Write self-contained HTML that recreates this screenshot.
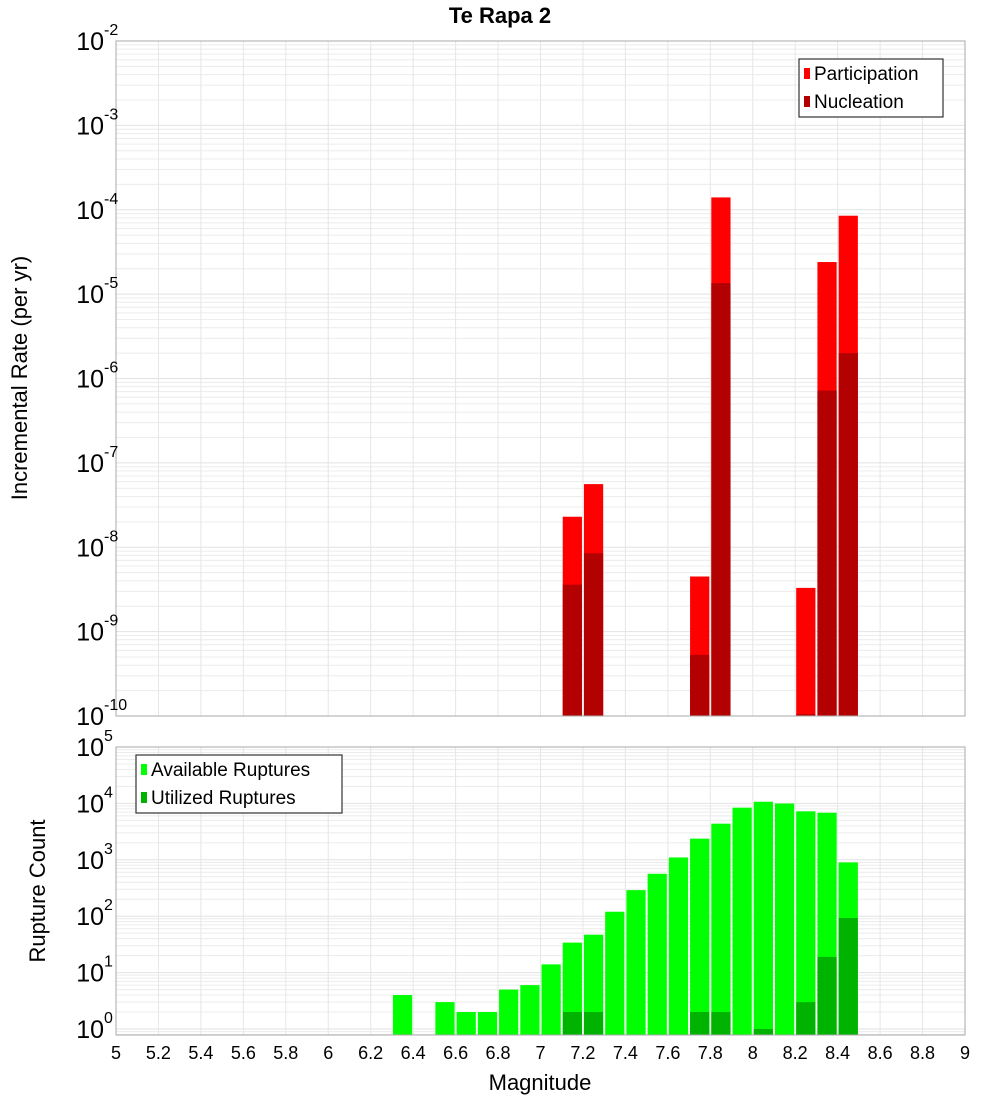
<!DOCTYPE html>
<html><head><meta charset="utf-8"><style>body{margin:0;background:#fff}svg{display:block;font-family:"Liberation Sans","DejaVu Sans",sans-serif}</style></head>
<body>
<svg id="chart" width="1000" height="1100" xmlns="http://www.w3.org/2000/svg"></svg>
<script>
const topMags = [7.15, 7.25, 7.75, 7.85, 8.25, 8.35, 8.45];
const participation = [2.3e-8, 5.6e-8, 4.5e-9, 1.4e-4, 3.3e-9, 2.4e-5, 8.5e-5];
const nucleation = [3.6e-9, 8.5e-9, 5.3e-10, 1.35e-5, 1.05e-10, 7.2e-7, 2.0e-6];
const botMags = [6.35,6.55,6.65,6.75,6.85,6.95,7.05,7.15,7.25,7.35,7.45,7.55,7.65,7.75,7.85,7.95,8.05,8.15,8.25,8.35,8.45];
const available = [4,3,2,2,5,6,14,34,47,120,290,565,1100,2370,4370,8400,10700,9950,7240,6830,900];
const utilized = [0,0,0,0,0,0,0,2,2,0,0,0,0,2,2,0,1,0,3,19,93];
const xTicks = [5,5.2,5.4,5.6,5.8,6,6.2,6.4,6.6,6.8,7,7.2,7.4,7.6,7.8,8,8.2,8.4,8.6,8.8,9];
const topExp = [-2,-3,-4,-5,-6,-7,-8,-9,-10];
const botExp = [5,4,3,2,1,0];

const svg = document.getElementById('chart');
const NS = 'http://www.w3.org/2000/svg';
function mk(tag, attrs, parent){const e=document.createElementNS(NS,tag);for(const k in attrs)e.setAttribute(k,attrs[k]);(parent||svg).appendChild(e);return e;}
const X0=116,X1=965;
const x = m => X0 + (m-5)/4*(X1-X0);
const T0=41,T1=716;
const yTop = v => T0 + (-2 - Math.log10(v))*(T1-T0)/8;
const B0=747,B1=1035,BD=56.4;
const yBot = v => Math.max(B0, Math.min(B1, B0 + (5 - Math.log10(v))*BD));

function grid(y0,y1,ylog,emin,emax,name){
  const g=mk('g',{});
  
  
  for(let e=emin;e<=emax;e++)for(let k=1;k<10;k++){const v=k*Math.pow(10,e);const yy=ylog(v);if(yy<y0-0.5||yy>y1+0.5)continue;mk('line',{x1:X0,x2:X1,y1:yy,y2:yy,stroke:k==1?'#e2e2e2':'#ececec','stroke-width':1},g);}
  xTicks.forEach(t=>mk('line',{x1:x(t),x2:x(t),y1:y0,y2:y1,stroke:'#e6e6e6'},g));
}
grid(T0,T1,yTop,-10,-3,'top-grid');
grid(B0,B1,yBot,-1,4,'bottom-grid');

function bars(mags,vals,ylog,base,color,name){
  mags.forEach((m,i)=>{if(vals[i]<=0)return;const yy=ylog(vals[i]);
    const r=mk('rect',{x:x(m-0.05)+1,y:yy,width:x(m+0.05)-x(m-0.05)-2,height:base-yy,fill:color});
    
    });
}
bars(topMags,participation,yTop,T1,'#ff0000','participation-bar');
bars(topMags,nucleation,yTop,T1,'#b30000','nucleation-bar');
bars(botMags,available,yBot,B1,'#00ff00','available-bar');
bars(botMags,utilized,yBot,B1,'#00b300','utilized-bar');

mk('rect',{x:X0,y:T0,width:X1-X0,height:T1-T0,fill:'none',stroke:'#aaa'});
mk('rect',{x:X0,y:B0,width:X1-X0,height:B1-B0,fill:'none',stroke:'#aaa'});

function ylab(e,yy,name){const t=mk('text',{x:104,y:yy+9,'text-anchor':'end','font-size':25,fill:'#000'});
  
  
  t.textContent='10';const s=mk('text',{x:104,y:yy-6,'font-size':16,fill:'#000'});s.textContent=String(e);}
topExp.forEach(e=>ylab(e,yTop(Math.pow(10,e)),'top-y-tick'));
botExp.forEach(e=>ylab(e,B0+(5-e)*BD,'bottom-y-tick'));
xTicks.forEach(t=>{const tx=mk('text',{x:x(t),y:1059,'text-anchor':'middle','font-size':18,fill:'#000'});
  
  
  tx.textContent=String(t);});

function txt(s,attrs,name){const t=mk('text',attrs);t.textContent=s;return t;}
txt('Te Rapa 2',{x:500,y:23,'text-anchor':'middle','font-size':22,'font-weight':'bold'},'chart-title');
txt('Magnitude',{x:540,y:1090,'text-anchor':'middle','font-size':22},'x-axis-title');
txt('Incremental Rate (per yr)',{x:0,y:0,'text-anchor':'middle','font-size':22,transform:'translate(27,378) rotate(-90)'},'top-y-axis-title');
txt('Rupture Count',{x:0,y:0,'text-anchor':'middle','font-size':22,transform:'translate(45,891) rotate(-90)'},'bottom-y-axis-title');

function legend(x0,y0,w,h,items,name){const g=mk('g',{});
  mk('rect',{x:x0,y:y0,width:w,height:h,fill:'#fff',stroke:'#333','stroke-width':1.2},g);
  items.forEach((it,i)=>{const cy=y0+14+i*28;mk('rect',{x:x0+5,y:cy-5,width:6,height:11,fill:it[1]},g);
    const t=mk('text',{x:x0+15,y:cy+7,'font-size':19,fill:'#000'},g);t.textContent=it[0];});}
legend(799,59,144,58,[['Participation','#ff0000'],['Nucleation','#b30000']],'top-legend');
legend(136,755,206,58,[['Available Ruptures','#00ff00'],['Utilized Ruptures','#00b300']],'bottom-legend');
</script>
</body></html>
